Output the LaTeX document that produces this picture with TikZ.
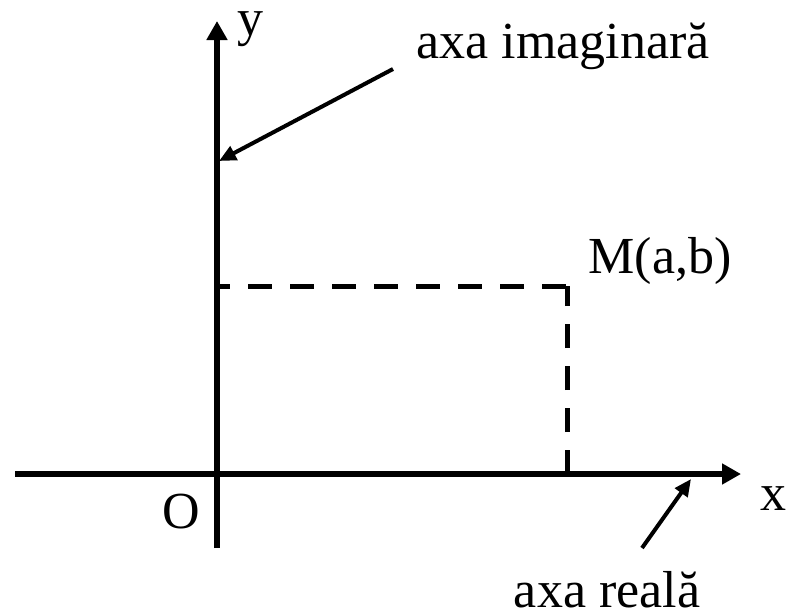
\documentclass[tikz,border=0pt]{standalone}
\usepackage{fontspec}
\setmainfont{Liberation Serif}
\usetikzlibrary{arrows.meta}
\begin{document}
\begin{tikzpicture}[x=1pt,y=-1pt,
  axis/.style={line width=6pt,-{Triangle[length=19pt,width=20pt]}},
  pointer/.style={line width=4pt,-{Triangle[length=17pt,width=15pt]}},
  guide/.style={line width=5pt,dash pattern=on 24pt off 18pt},
  lbl/.style={font=\fontsize{52}{52}\selectfont,inner sep=0pt,anchor=base}]
\useasboundingbox (0,0) rectangle (790,614);
\coordinate (ybot) at (217,548);
\coordinate (ytop) at (217,21);
\coordinate (xl) at (15,474);
\coordinate (xr) at (741,474);
\coordinate (M) at (567,286);
\coordinate (Mc) at (569.5,286);
\coordinate (My) at (217,286);
\coordinate (Mx) at (567,474);
\draw[guide,dash phase=11pt] (My) -- (Mc);
\draw[guide] (Mx) -- (M);
\draw[axis] (xl) -- (xr);
\draw[axis] (ybot) -- (ytop);
\node[lbl] (ylab) at (250,35) {y};
\node[lbl] (xlab) at (773,510) {x};
\node[lbl] (olab) at (181,528) {O};
\node[lbl] (mlab) at (660,273) {M(a,b)};
\node[lbl] (imag) at (563,58) {axa imaginară};
\node[lbl] (real) at (607,607) {axa reală};
\coordinate (p1s) at (393,69);
\coordinate (p1e) at (219,161);
\coordinate (p2s) at (642,548);
\coordinate (p2e) at (691,479);
\draw[pointer] (p1s) -- (p1e);
\draw[pointer] (p2s) -- (p2e);
\end{tikzpicture}
\end{document}
